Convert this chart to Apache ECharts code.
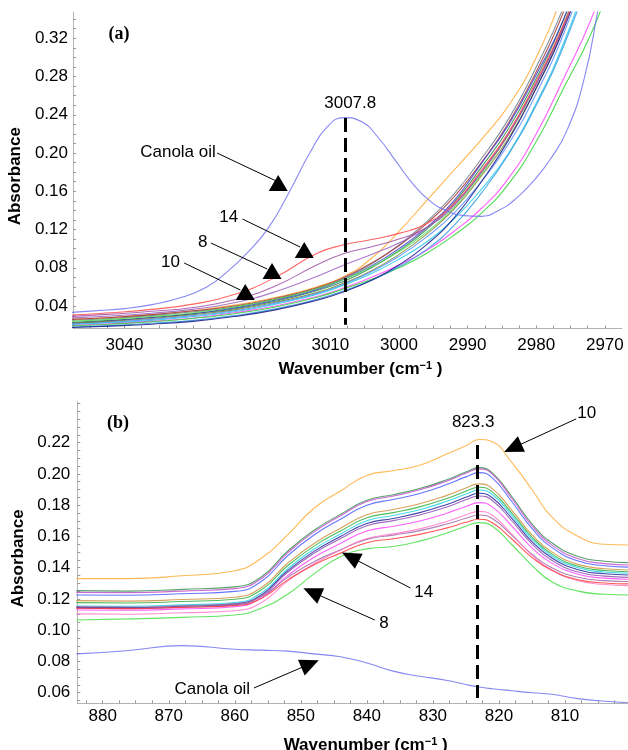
<!DOCTYPE html>
<html><head><meta charset="utf-8">
<script src="https://cdn.jsdelivr.net/npm/echarts@6/dist/echarts.min.js"></script>
<style>html,body{margin:0;padding:0;background:#fff}#c{width:628px;height:750px}</style>
</head><body><div id="c"></div>
<script>
// ---------- Panel (a) data ----------
const WA = [3048, 3042, 3036, 3030, 3024, 3018, 3012, 3008, 3004, 3000, 2996, 2992, 2988, 2984, 2980, 2976, 2972, 2968];
const CANOLA_A_X = [3048, 3044, 3040, 3036, 3032, 3028, 3025, 3022, 3019, 3016, 3013, 3010.5, 3008, 3005.5, 3003, 3000.5, 2998, 2995.5, 2993, 2990.5, 2988, 2985.5, 2983, 2980.5, 2978, 2975.5, 2973, 2971, 2969];
const CANOLA_A = [0.0332, 0.0352, 0.0373, 0.0415, 0.0483, 0.0600, 0.0760, 0.0965, 0.1220, 0.1590, 0.2000, 0.2270, 0.2370, 0.2330, 0.2160, 0.1920, 0.1680, 0.1500, 0.1395, 0.1345, 0.1338, 0.1400, 0.1520, 0.1700, 0.1930, 0.2240, 0.2780, 0.3500, 0.4300];
const A_RED     = [0.0305, 0.0330, 0.0365, 0.0420, 0.0520, 0.0700, 0.0950, 0.1040, 0.1095, 0.1160, 0.1260, 0.1470, 0.1820, 0.2220, 0.2750, 0.3350, 0.4100, 0.5000];
const A_PURPLE  = [0.0290, 0.0315, 0.0345, 0.0385, 0.0465, 0.0610, 0.0830, 0.0950, 0.1020, 0.1100, 0.1220, 0.1450, 0.1800, 0.2200, 0.2720, 0.3320, 0.4050, 0.4900];
const A_PURPLE2 = [0.0275, 0.0295, 0.0325, 0.0365, 0.0435, 0.0550, 0.0710, 0.0830, 0.0940, 0.1060, 0.1220, 0.1460, 0.1800, 0.2210, 0.2730, 0.3330, 0.4100, 0.5000];
const A_ORANGE  = [0.0260, 0.0280, 0.0310, 0.0350, 0.0410, 0.0490, 0.0600, 0.0710, 0.0900, 0.1180, 0.1500, 0.1820, 0.2140, 0.2500, 0.3000, 0.3700, 0.4600, 0.5600];
const A_BLUE    = [0.0220, 0.0245, 0.0280, 0.0320, 0.0380, 0.0460, 0.0570, 0.0680, 0.0820, 0.1000, 0.1220, 0.1500, 0.1890, 0.2300, 0.2820, 0.3400, 0.4200, 0.5100];
const A_NAVY    = [0.0175, 0.0190, 0.0210, 0.0240, 0.0290, 0.0360, 0.0460, 0.0550, 0.0670, 0.0830, 0.1040, 0.1320, 0.1700, 0.2140, 0.2680, 0.3300, 0.4100, 0.5000];
const A_LBLUE2  = [0.0180, 0.0195, 0.0220, 0.0250, 0.0300, 0.0370, 0.0470, 0.0560, 0.0670, 0.0810, 0.0990, 0.1240, 0.1580, 0.1990, 0.2500, 0.3120, 0.3900, 0.4800];
const A_GREEN   = [0.0190, 0.0210, 0.0235, 0.0270, 0.0320, 0.0390, 0.0490, 0.0580, 0.0680, 0.0800, 0.0950, 0.1140, 0.1370, 0.1680, 0.2120, 0.2680, 0.3250, 0.4000];
const A_MAGENTA = [0.0195, 0.0215, 0.0240, 0.0275, 0.0330, 0.0400, 0.0500, 0.0590, 0.0700, 0.0830, 0.0980, 0.1180, 0.1420, 0.1740, 0.2200, 0.2780, 0.3400, 0.4200];
const A_CYAN    = [0.0205, 0.0225, 0.0250, 0.0290, 0.0340, 0.0420, 0.0520, 0.0620, 0.0740, 0.0890, 0.1070, 0.1310, 0.1620, 0.2000, 0.2520, 0.3150, 0.3950, 0.4800];
const A_GREEN2  = [0.0240, 0.0260, 0.0290, 0.0330, 0.0390, 0.0470, 0.0580, 0.0680, 0.0810, 0.0970, 0.1170, 0.1430, 0.1780, 0.2200, 0.2720, 0.3350, 0.4150, 0.5000];
const A_DKGREEN = [0.0230, 0.0250, 0.0280, 0.0320, 0.0370, 0.0450, 0.0560, 0.0660, 0.0800, 0.0980, 0.1200, 0.1480, 0.1850, 0.2260, 0.2780, 0.3400, 0.4200, 0.5100];
const A_BROWN   = [0.0260, 0.0280, 0.0310, 0.0350, 0.0400, 0.0480, 0.0590, 0.0700, 0.0850, 0.1030, 0.1260, 0.1540, 0.1900, 0.2320, 0.2850, 0.3480, 0.4300, 0.5200];
const A_GRAY    = [0.0250, 0.0270, 0.0300, 0.0340, 0.0390, 0.0470, 0.0580, 0.0690, 0.0840, 0.1040, 0.1280, 0.1570, 0.1940, 0.2360, 0.2900, 0.3530, 0.4350, 0.5300];
const A_OLIVE   = [0.0220, 0.0240, 0.0270, 0.0310, 0.0360, 0.0440, 0.0540, 0.0640, 0.0770, 0.0940, 0.1150, 0.1410, 0.1760, 0.2160, 0.2680, 0.3300, 0.4100, 0.5000];
const A_LBLUE   = [0.0210, 0.0230, 0.0260, 0.0300, 0.0350, 0.0430, 0.0530, 0.0630, 0.0760, 0.0920, 0.1120, 0.1370, 0.1700, 0.2100, 0.2620, 0.3250, 0.4050, 0.4900];

// ---------- Panel (b) data ----------
const WB = [884, 876, 868, 860, 856, 852, 848, 844, 840, 836, 832, 828, 825, 823, 821, 818, 815, 812, 808, 804, 800];
const CANOLA_B  = [0.0848, 0.0870, 0.0901, 0.0878, 0.0872, 0.0866, 0.0848, 0.0830, 0.0790, 0.0738, 0.0705, 0.0680, 0.0652, 0.0636, 0.0625, 0.0612, 0.0600, 0.0590, 0.0562, 0.0545, 0.0535];
const B_ORANGE  = [0.1330, 0.1330, 0.1348, 0.1380, 0.1460, 0.1610, 0.1780, 0.1890, 0.1990, 0.2020, 0.2055, 0.2125, 0.2180, 0.2220, 0.2205, 0.2070, 0.1900, 0.1725, 0.1600, 0.1550, 0.1545];
const B_DKGREEN = [0.1253, 0.1250, 0.1261, 0.1277, 0.1340, 0.1505, 0.1639, 0.1741, 0.1831, 0.1867, 0.1906, 0.1961, 0.2012, 0.2040, 0.2007, 0.1852, 0.1681, 0.1560, 0.1472, 0.1441, 0.1432];
const B_MAUVE   = [0.1242, 0.1240, 0.1250, 0.1266, 0.1329, 0.1495, 0.1629, 0.1732, 0.1823, 0.1858, 0.1898, 0.1953, 0.2004, 0.2032, 0.1998, 0.1841, 0.1669, 0.1546, 0.1457, 0.1426, 0.1417];
const B_BLUE    = [0.1225, 0.1223, 0.1233, 0.1248, 0.1311, 0.1476, 0.1609, 0.1710, 0.1800, 0.1836, 0.1875, 0.1930, 0.1981, 0.2008, 0.1975, 0.1820, 0.1651, 0.1530, 0.1442, 0.1412, 0.1403];
const B_BROWN   = [0.1189, 0.1186, 0.1196, 0.1211, 0.1271, 0.1428, 0.1555, 0.1652, 0.1738, 0.1772, 0.1809, 0.1861, 0.1910, 0.1936, 0.1906, 0.1765, 0.1611, 0.1501, 0.1421, 0.1393, 0.1385];
const B_GREEN   = [0.1176, 0.1174, 0.1183, 0.1198, 0.1257, 0.1412, 0.1538, 0.1634, 0.1719, 0.1752, 0.1789, 0.1841, 0.1889, 0.1915, 0.1885, 0.1747, 0.1596, 0.1488, 0.1409, 0.1382, 0.1374];
const B_CYAN    = [0.1155, 0.1153, 0.1162, 0.1177, 0.1237, 0.1392, 0.1519, 0.1615, 0.1700, 0.1734, 0.1771, 0.1823, 0.1871, 0.1897, 0.1868, 0.1732, 0.1583, 0.1476, 0.1399, 0.1372, 0.1364];
const B_NAVY    = [0.1146, 0.1144, 0.1153, 0.1168, 0.1226, 0.1380, 0.1504, 0.1599, 0.1683, 0.1715, 0.1752, 0.1803, 0.1850, 0.1876, 0.1847, 0.1714, 0.1567, 0.1463, 0.1387, 0.1361, 0.1353];
const B_PURPLE  = [0.1140, 0.1138, 0.1147, 0.1162, 0.1219, 0.1370, 0.1492, 0.1586, 0.1668, 0.1701, 0.1737, 0.1787, 0.1834, 0.1859, 0.1830, 0.1697, 0.1552, 0.1447, 0.1372, 0.1346, 0.1338];
const B_MAGENTA = [0.1129, 0.1127, 0.1136, 0.1150, 0.1205, 0.1349, 0.1466, 0.1555, 0.1634, 0.1665, 0.1699, 0.1747, 0.1792, 0.1816, 0.1789, 0.1664, 0.1527, 0.1429, 0.1358, 0.1333, 0.1326];
const B_PURPLE2 = [0.1150, 0.1148, 0.1156, 0.1168, 0.1215, 0.1338, 0.1438, 0.1514, 0.1581, 0.1608, 0.1637, 0.1678, 0.1716, 0.1737, 0.1714, 0.1605, 0.1486, 0.1400, 0.1339, 0.1317, 0.1311];
const B_RED     = [0.1140, 0.1138, 0.1146, 0.1157, 0.1203, 0.1322, 0.1419, 0.1493, 0.1559, 0.1585, 0.1613, 0.1653, 0.1690, 0.1710, 0.1687, 0.1582, 0.1466, 0.1383, 0.1323, 0.1302, 0.1296];
const B_PINK    = [0.1104, 0.1102, 0.1111, 0.1124, 0.1176, 0.1314, 0.1425, 0.1511, 0.1586, 0.1616, 0.1648, 0.1694, 0.1737, 0.1760, 0.1735, 0.1613, 0.1480, 0.1385, 0.1316, 0.1292, 0.1285];
const B_LGREEN  = [0.1065, 0.1072, 0.1082, 0.1097, 0.1140, 0.1230, 0.1360, 0.1470, 0.1520, 0.1535, 0.1570, 0.1620, 0.1665, 0.1688, 0.1665, 0.1545, 0.1415, 0.1310, 0.1250, 0.1230, 0.1225];

// ---------- Tick labels ----------
const XA_TICKS = [3040, 3030, 3020, 3010, 3000, 2990, 2980, 2970];
const YA_TICKS = [0.04, 0.08, 0.12, 0.16, 0.20, 0.24, 0.28, 0.32];
const XB_TICKS = [880, 870, 860, 850, 840, 830, 820, 810];
const YB_TICKS = [0.06, 0.08, 0.10, 0.12, 0.14, 0.16, 0.18, 0.20, 0.22];

// ---------- Peak markers / labels ----------
const PEAK_A = 3007.8, PEAK_B = 823.3;

// ---------- Styles ----------
const F = 'Liberation Sans';
const A_SERIES = [
  ['orange', A_ORANGE, '#ffa830'], ['gray', A_GRAY, '#6f8090'], ['brown', A_BROWN, '#a83a3a'],
  ['dkgreen', A_DKGREEN, '#2a8a4a'], ['blue', A_BLUE, '#3a3ad0'], ['green2', A_GREEN2, '#55dd55'],
  ['olive', A_OLIVE, '#7a8a30'], ['lblue', A_LBLUE, '#5a8cff'], ['cyan', A_CYAN, '#22c8e8'],
  ['magenta', A_MAGENTA, '#ff44ff'], ['green', A_GREEN, '#33d433'], ['lblue2', A_LBLUE2, '#2f9ae0'],
  ['navy', A_NAVY, '#1a1a8a'], ['purple2', A_PURPLE2, '#9a60c0'], ['purple', A_PURPLE, '#a050a8'],
  ['red', A_RED, '#ff4a4a']
];
const B_SERIES = [
  ['orange', B_ORANGE, '#ffac3a'], ['dkgreen', B_DKGREEN, '#3a9050'], ['mauve', B_MAUVE, '#c050c8'],
  ['blue', B_BLUE, '#4a5cff'], ['brown', B_BROWN, '#d09040'], ['green', B_GREEN, '#30b040'],
  ['cyan', B_CYAN, '#22d4e6'], ['navy', B_NAVY, '#24249a'], ['purple', B_PURPLE, '#9050b0'],
  ['magenta', B_MAGENTA, '#ff44ff'], ['purple2', B_PURPLE2, '#a06aa8'], ['pink', B_PINK, '#ff7ac8'],
  ['red', B_RED, '#ff3a3a'], ['lgreen', B_LGREEN, '#44e044']
];

// points sorted by ascending wavenumber for the spline
function zip(xs, ys) { return xs.map((x, i) => [x, ys[i]]).sort((p, q) => p[0] - q[0]); }
function lineSeries(name, xs, ys, color, gi, extra) {
  return Object.assign({
    name: name, type: 'line', xAxisIndex: gi, yAxisIndex: gi,
    data: zip(xs, ys), showSymbol: false, smooth: 0.5,
    lineStyle: { color: color, width: 1.1, opacity: 0.85 }, itemStyle: { color: color },
    clip: true, silent: true, z: 2
  }, extra || {});
}
function txt(coord, text, size, extra) {
  return Object.assign({ coord: coord, symbol: 'rect', symbolSize: 0,
    label: { show: true, position: 'inside', formatter: text, color: '#000', fontSize: size || 17, fontFamily: F } }, extra || {});
}
function tri(coord) {
  return { coord: coord, symbol: 'triangle', symbolSize: [19, 16], itemStyle: { color: '#000' }, label: { show: false } };
}
const dash = { color: '#000', width: 3, type: [14, 6] };
const thin = { color: '#000', width: 1, type: 'solid' };

const ticksA = []; for (let v = 2970; v <= 3047.5; v += 2.5) ticksA.push(v);
const ticksYA = []; for (let k = 2; k <= 34; k++) ticksYA.push(k / 100);
const ticksB = []; for (let v = 802.5; v <= 883; v += 2.5) ticksB.push(v);
const ticksYB = []; for (let k = 11; k <= 49; k++) ticksYB.push(k * 0.005);

function xAxisCfg(gi, min, max, labels, ticks, margin, gap) {
  return {
    type: 'value', gridIndex: gi, min: min, max: max, inverse: true,
    axisLine: { show: true, onZero: false, lineStyle: { color: '#b4b4b4', width: 1 } },
    axisTick: { show: true, inside: true, length: 3, customValues: ticks, lineStyle: { color: '#999' } },
    axisLabel: { customValues: labels, color: '#000', fontSize: 17, fontFamily: F, margin: margin, formatter: v => String(v) },
    splitLine: { show: false },
    name: 'Wavenumber (cm{sup|−1} )', nameLocation: 'middle', nameGap: gap,
    nameTextStyle: { color: '#000', fontSize: 17, fontWeight: 'bold', fontFamily: F, padding: [0, 0, 0, 26],
      rich: { sup: { fontSize: 11, fontWeight: 'bold', fontFamily: F, color: '#000', verticalAlign: 'top', padding: [0, 0, 7, 0] } } }
  };
}
function yAxisCfg(gi, min, max, labels, ticks, margin) {
  return {
    type: 'value', gridIndex: gi, min: min, max: max,
    axisLine: { show: true, onZero: false, lineStyle: { color: '#b4b4b4', width: 1 } },
    axisTick: { show: true, inside: true, length: 3, customValues: ticks, lineStyle: { color: '#999' } },
    axisLabel: { customValues: labels, color: '#000', fontSize: 17, fontFamily: F, margin: margin, formatter: v => v.toFixed(2) },
    splitLine: { show: false },
    name: 'Absorbance', nameLocation: 'middle', nameGap: 45,
    nameTextStyle: { color: '#000', fontSize: 17, fontWeight: 'bold', fontFamily: F, padding: [0, 12, 0, 0] }
  };
}

const series = [];
A_SERIES.forEach(s => series.push(lineSeries('a-' + s[0], WA, s[1], s[2], 0)));
series.push(lineSeries('Canola oil (a)', CANOLA_A_X, CANOLA_A, '#7272f2', 0, {
  z: 3,
  markLine: { silent: true, animation: false, symbol: ['none', 'none'], label: { show: false }, lineStyle: thin,
    data: [
      [{ coord: [PEAK_A, 0.2367], lineStyle: dash }, { coord: [PEAK_A, 0.0205] }],
      [{ coord: [3026.5, 0.2000] }, { coord: [3017.9, 0.1708] }],
      [{ coord: [3022.8, 0.1310] }, { coord: [3014.4, 0.1017] }],
      [{ coord: [3027.4, 0.1059] }, { coord: [3019.2, 0.0787] }],
      [{ coord: [3031.3, 0.0850] }, { coord: [3023.1, 0.0567] }]
    ] },
  markPoint: { silent: true, animation: false,
    data: [
      tri([3017.6, 0.1687]), tri([3013.8, 0.0986]), tri([3018.5, 0.0766]), tri([3022.4, 0.0546]),
      txt([3032.2, 0.2011], 'Canola oil'), txt([3024.8, 0.1331], '14'), txt([3028.6, 0.1069], '8'),
      txt([3033.3, 0.0860], '10'), txt([3007.1, 0.2523], String(PEAK_A)),
      { coord: [3040.8, 0.3245], symbol: 'rect', symbolSize: 0,
        label: { show: true, position: 'inside', formatter: '(a)', color: '#000', fontSize: 18, fontWeight: 'bold', fontFamily: 'Liberation Serif' } }
    ] }
}));
B_SERIES.forEach(s => series.push(lineSeries('b-' + s[0], WB, s[1], s[2], 1)));
function arrowB(from, to) {
  return [{ coord: from, symbol: 'none' }, { coord: to, symbol: 'triangle', symbolSize: [17, 19] }];
}
series.push(lineSeries('Canola oil (b)', WB, CANOLA_B, '#7272f2', 1, {
  z: 3,
  markLine: { silent: true, animation: false, symbol: ['none', 'none'], label: { show: false }, lineStyle: thin,
    itemStyle: { color: '#000' },
    data: [
      [{ coord: [PEAK_B, 0.2185], lineStyle: dash }, { coord: [PEAK_B, 0.0566] }],
      arrowB([808.3, 0.2352], [817.9, 0.2166]),
      arrowB([833.4, 0.1270], [842.5, 0.1469]),
      arrowB([838.8, 0.1065], [848.3, 0.1244]),
      arrowB([857.1, 0.0630], [848.6, 0.0784])
    ] },
  markPoint: { silent: true, animation: false,
    data: [
      txt([806.7, 0.2390], '10'), txt([831.4, 0.1244], '14'), txt([837.4, 0.1046], '8'),
      txt([863.4, 0.0624], 'Canola oil'), txt([823.9, 0.2332], String(PEAK_B)),
      { coord: [877.7, 0.2326], symbol: 'rect', symbolSize: 0,
        label: { show: true, position: 'inside', formatter: '(b)', color: '#000', fontSize: 18, fontWeight: 'bold', fontFamily: 'Liberation Serif' } }
    ] }
}));

const chart = echarts.init(document.getElementById('c'), null, { renderer: 'canvas' });
chart.setOption({
  animation: false,
  backgroundColor: '#fff',
  grid: [
    { left: 73, top: 12, width: 549, height: 316.5, outerBoundsMode: 'none' },
    { left: 77.3, top: 401.7, width: 550.7, height: 301.6, outerBoundsMode: 'none' }
  ],
  xAxis: [
    xAxisCfg(0, 2967.5, 3047.5, XA_TICKS, ticksA, 8, 32),
    xAxisCfg(1, 800.45, 883.85, XB_TICKS, ticksB, 5, 33)
  ],
  yAxis: [
    yAxisCfg(0, 0.0165, 0.3475, YA_TICKS, ticksYA, 5),
    yAxisCfg(1, 0.0532, 0.2462, YB_TICKS, ticksYB, 7)
  ],
  series: series
});
</script>
</body></html>
